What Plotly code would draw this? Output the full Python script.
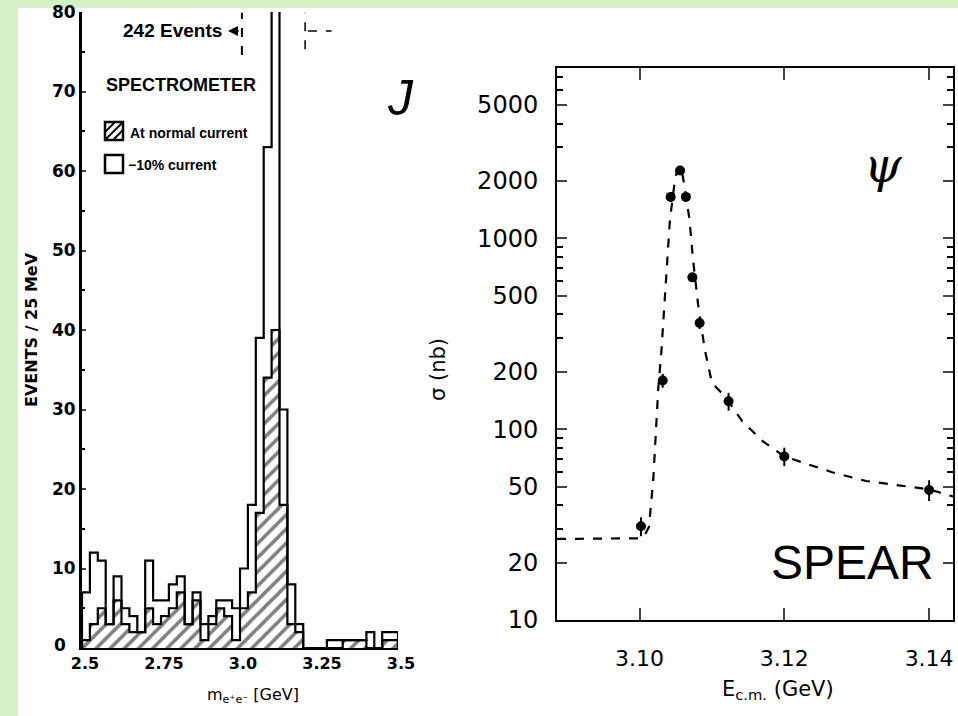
import numpy as np
import plotly.graph_objects as go

# ---------------- data: left panel (J, spectrometer histogram) ----------------
bin_start = 2.5
bin_width = 0.025
open_counts = [7, 12, 11, 3, 9, 5, 4, 2, 11, 6,
               6, 8, 9, 3, 7, 3, 4, 6, 6, 5,
               10, 18, 39, 63, 100, 30, 8, 3, 0, 0,
               0, 1, 1, 1, 1, 1, 2, 0, 2, 2]
normal_counts = [1, 3, 5, 3, 6, 3, 2, 2, 5, 3,
                 4, 5, 7, 3, 6, 1, 3, 5, 4, 1,
                 5, 7, 17, 34, 40, 18, 3, 2, 0, 0,
                 0, 0, 0, 1, 1, 1, 0, 0, 1, 1]
left_xticks = [2.5, 2.75, 3.0, 3.25, 3.5]
left_xtick_labels = ["2.5", "2.75", "3.0", "3.25", "3.5"]
left_yticks = [10, 20, 30, 40, 50, 60, 70, 80]
left_yminor = [5, 15, 25, 35, 45, 55, 65, 75]

# ---------------- data: right panel (psi, SPEAR cross section) ----------------
point_E = [3.1002, 3.1032, 3.1043, 3.1056, 3.1064, 3.1073, 3.1083, 3.1123, 3.1200, 3.1400]
point_sigma = [31, 180, 1650, 2270, 1650, 625, 360, 140, 72, 48]
point_err = [3.5, 15, 100, 120, 100, 30, 25, 15, 8, 6]
curve_E = [3.0886, 3.0950, 3.1000, 3.1007, 3.1013, 3.1019, 3.1023, 3.1026, 3.1030,
           3.1033, 3.1038, 3.1042, 3.1048, 3.1052, 3.1055, 3.1058, 3.1062, 3.1069,
           3.1074, 3.1081, 3.1090, 3.1100, 3.1119, 3.1142, 3.1171, 3.1200, 3.1266,
           3.1313, 3.1400, 3.1433]
curve_sigma = [26.6, 26.6, 26.8, 27.8, 30.7, 54.7, 101, 166, 250,
               366, 677, 1254, 1900, 2300, 2380, 2300, 1900, 1254,
               766, 448, 263, 175, 147, 110, 86, 72, 59.5,
               53.5, 48.4, 44.4]
right_xticks = [3.10, 3.12, 3.14]
right_xtick_labels = ["3.10", "3.12", "3.14"]
right_ylabels = [10, 20, 50, 100, 200, 500, 1000, 2000, 5000]

W, H = 958, 716
def PX(x): return x / W
def PY(y): return 1 - y / H

n = len(open_counts)
edges = bin_start + bin_width * np.arange(n + 1)
centers = edges[:-1] + bin_width / 2

def step_outline(vals):
    xs, ys = [edges[0]], [0]
    for i, v in enumerate(vals):
        xs += [edges[i], edges[i + 1]]
        ys += [v, v]
    xs.append(edges[-1]); ys.append(0)
    return xs, ys

fig = go.Figure()

fig.add_trace(go.Bar(
    x=centers, y=normal_counts, width=bin_width, xaxis="x", yaxis="y",
    marker=dict(color="white", line=dict(width=0),
                pattern=dict(shape="/", fgcolor="black", bgcolor="white", size=10, solidity=0.35)),
    showlegend=False, hoverinfo="skip"))

ox, oy = step_outline(open_counts)
fig.add_trace(go.Scatter(x=ox, y=oy, mode="lines", line=dict(color="black", width=2.2),
                         xaxis="x", yaxis="y", showlegend=False, hoverinfo="skip"))
hx, hy = step_outline(normal_counts)
fig.add_trace(go.Scatter(x=hx, y=hy, mode="lines", line=dict(color="black", width=2.2),
                         xaxis="x", yaxis="y", showlegend=False, hoverinfo="skip"))

fig.add_trace(go.Scatter(x=curve_E, y=curve_sigma, mode="lines",
                         line=dict(color="black", width=2.2, dash="dash"),
                         xaxis="x2", yaxis="y2", showlegend=False))
fig.add_trace(go.Scatter(x=point_E, y=point_sigma, mode="markers",
                         marker=dict(color="black", size=10),
                         error_y=dict(type="data", array=point_err, color="black", thickness=2, width=0),
                         xaxis="x2", yaxis="y2", showlegend=False))

minor_vals = []
for dec in [10, 100, 1000]:
    for m in range(1, 10):
        v = dec * m
        if v not in right_ylabels and v < 8000:
            minor_vals.append(v)

tick_font_left = dict(family="DejaVu Sans", size=16, color="black", weight="bold")
fig.update_layout(
    width=W, height=H, margin=dict(l=0, r=0, t=0, b=0, autoexpand=False), autosize=False,
    paper_bgcolor="white", plot_bgcolor="rgba(0,0,0,0)",
    barmode="overlay", bargap=0,
    xaxis=dict(domain=[PX(82), PX(398)], range=[2.5, 3.5], anchor="y", automargin=False,
               tickvals=left_xticks, ticktext=left_xtick_labels, ticks="", ticklabelshift=3,
               showline=True, linecolor="black", linewidth=1.5, showgrid=False, zeroline=False,
               tickfont=tick_font_left),
    yaxis=dict(domain=[PY(648), PY(12)], range=[0, 80], anchor="x", automargin=False,
               tickvals=left_yticks, ticktext=[str(v) for v in left_yticks],
               ticks="inside", ticklen=4, tickwidth=2,
               minor=dict(tickvals=left_yminor, ticks="inside", ticklen=3, tickwidth=2, tickcolor="black"),
               showline=True, linecolor="black", linewidth=3, showgrid=False, zeroline=False,
               tickfont=dict(family="DejaVu Sans", size=17, color="black", weight="bold")),
    xaxis2=dict(domain=[PX(557), PX(953)], range=[3.0886, 3.1433], anchor="y2", automargin=False,
                tickvals=right_xticks, ticktext=right_xtick_labels, ticks="inside", ticklen=12, tickwidth=2,
                mirror="ticks", showline=True, linecolor="black", linewidth=2, showgrid=False,
                zeroline=False, ticklabelstandoff=18,
                tickfont=dict(family="DejaVu Sans", size=22, color="black")),
    yaxis2=dict(domain=[PY(620), PY(68)], type="log", range=[1, 3.893], anchor="x2", automargin=False,
                tickvals=right_ylabels, ticktext=[str(v) for v in right_ylabels],
                ticks="inside", ticklen=10, tickwidth=2, mirror="ticks",
                minor=dict(tickvals=minor_vals, ticks="inside", ticklen=6, tickwidth=1.5, tickcolor="black"),
                showline=True, linecolor="black", linewidth=2, showgrid=False, zeroline=False,
                ticklabelstandoff=12,
                tickfont=dict(family="DejaVu Sans", size=24, color="black")),
)

shapes = []
# green scan border
shapes.append(dict(type="rect", xref="paper", yref="paper", x0=0, x1=1, y0=PY(8), y1=1,
                   fillcolor="#d3f1c4", line=dict(width=0), layer="below"))
shapes.append(dict(type="rect", xref="paper", yref="paper", x0=0, x1=PX(18), y0=0, y1=1,
                   fillcolor="#d3f1c4", line=dict(width=0), layer="below"))
# legend boxes
shapes.append(dict(type="rect", xref="paper", yref="paper", x0=PX(105), x1=PX(123), y0=PY(140), y1=PY(122),
                   line=dict(color="black", width=2.5)))
for (a, b, c, d) in [(105, 140, 123, 122), (105, 132, 115, 122), (113, 140, 123, 130)]:
    shapes.append(dict(type="line", xref="paper", yref="paper", x0=PX(a), y0=PY(b), x1=PX(c), y1=PY(d),
                       line=dict(color="black", width=2)))
shapes.append(dict(type="rect", xref="paper", yref="paper", x0=PX(105), x1=PX(123), y0=PY(173), y1=PY(155),
                   line=dict(color="black", width=2.5)))
# dashed bracket marks near the top of the left panel
shapes.append(dict(type="line", xref="x", yref="y", x0=3.006, x1=3.006, y0=74.6, y1=79.9,
                   line=dict(color="black", width=2, dash="dash")))
shapes.append(dict(type="line", xref="x", yref="y", x0=3.206, x1=3.206, y0=75.3, y1=79.9,
                   line=dict(color="black", width=1.5, dash="dash")))
shapes.append(dict(type="line", xref="x", yref="y", x0=3.215, x1=3.29, y0=77.6, y1=77.6,
                   line=dict(color="black", width=1.5, dash="dash")))
fig.update_layout(shapes=shapes)

ann = []
def text(x, y, s, size, family="Liberation Sans", xanchor="center", angle=0, weight="normal", style="normal"):
    ann.append(dict(x=PX(x), y=PY(y), xref="paper", yref="paper", text=s, showarrow=False,
                    xanchor=xanchor, yanchor="middle", textangle=angle,
                    font=dict(family=family, size=size, color="black", weight=weight, style=style)))

text(68, 645, "0", 17, family="DejaVu Sans", weight="bold", xanchor="right")
text(224, 30, "242 Events", 19, weight="bold", xanchor="right")
text(104, 85, "SPECTROMETER", 18, weight="bold", xanchor="left")
text(128, 133, "At normal current", 14, weight="bold", xanchor="left")
text(126, 165, "−10% current", 14, weight="bold", xanchor="left")
text(400, 98, "J", 50, style="italic")
text(883, 165, "ψ", 48, family="DejaVu Serif", style="italic")
text(852, 562, "SPEAR", 48)
text(31, 330, "EVENTS / 25 MeV", 16, family="DejaVu Sans", angle=-90, weight="bold")
text(253, 695, "m<sub>e⁺e⁻</sub> [GeV]", 16, family="DejaVu Sans")
text(438, 370, "σ (nb)", 21, family="DejaVu Sans", angle=-90)
text(778, 690, "E<sub>c.m.</sub> (GeV)", 21, family="DejaVu Sans")
ann.append(dict(x=2.962, y=77.6, xref="x", yref="y", ax=12, ay=0, text="", showarrow=True,
                arrowhead=2, arrowsize=1, arrowwidth=2, arrowcolor="black"))
fig.update_layout(annotations=ann)

fig.write_html("out.html")
